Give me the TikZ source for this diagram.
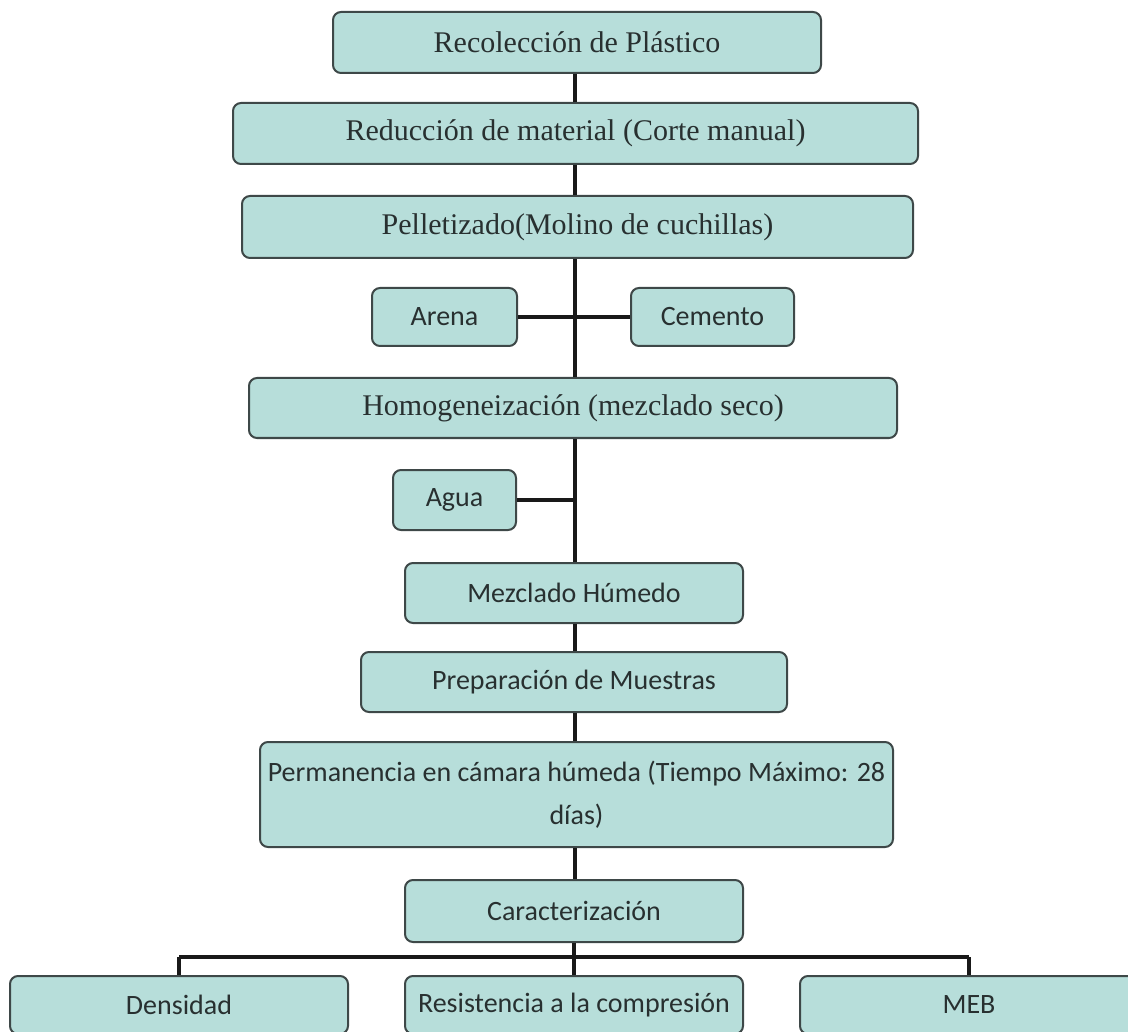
\documentclass[tikz,border=0pt]{standalone}
\usepackage{fontspec}
\setmainfont{Liberation Serif}
\newfontfamily\carl{Carlito}
\definecolor{boxfill}{RGB}{183,222,218}
\definecolor{boxline}{RGB}{62,72,72}
\definecolor{txt}{RGB}{40,48,48}
\begin{document}
\begin{tikzpicture}[x=1pt,y=-1pt,
  box/.style={draw=boxline, line width=2pt, fill=boxfill, rounded corners=8pt,
    inner sep=0pt, text=txt, anchor=center},
  serifbox/.style={box, font=\fontsize{30}{34}\selectfont},
  sansbox/.style={box, font=\carl\fontsize{28}{43}\selectfont},
  link/.style={line width=4pt, draw=black!90}]
\useasboundingbox (0,0) rectangle (1128,1032);
\clip (0,0) rectangle (1128,1032);
\fill[white] (0,0) rectangle (1128,1032);

\node[serifbox, minimum width=488pt, minimum height=61pt] (rec) at (577,42.5) {Recolección de Plástico};
\node[serifbox, minimum width=685pt, minimum height=61pt] (red) at (575.5,133.5) {Reducción de material (Corte manual)};
\node[serifbox, minimum width=671pt, minimum height=62pt] (pel) at (577.5,227) {Pelletizado(Molino de cuchillas)};
\node[sansbox, minimum width=145pt, minimum height=58pt] (arena) at (444.5,317) {Arena};
\node[sansbox, minimum width=163pt, minimum height=58pt] (cem) at (712.5,317) {Cemento};
\node[serifbox, minimum width=648pt, minimum height=60pt] (hom) at (573,408) {Homogeneización (mezclado seco)};
\node[sansbox, minimum width=123pt, minimum height=60pt] (agua) at (454.5,500) {Agua};
\node[sansbox, minimum width=338pt, minimum height=60pt] (mez) at (574,593) {Mezclado Húmedo};
\node[sansbox, minimum width=426pt, minimum height=60pt] (prep) at (574,682) {Preparación de Muestras};
\node[sansbox, minimum width=633pt, minimum height=105pt, align=center] (perm) at (576.5,794.5) {Permanencia en cámara húmeda (Tiempo Máximo: 28\\días)};
\node[sansbox, minimum width=338pt, minimum height=62pt] (car) at (574,911) {Caracterización};
\node[sansbox, minimum width=338pt, minimum height=58pt, yshift=-4pt] (den) at (179,1001) {Densidad};
\node[sansbox, minimum width=338pt, minimum height=58pt, yshift=-4pt] (res) at (574,1001) {Resistencia a la compresión};
\node[sansbox, minimum width=338pt, minimum height=58pt, yshift=-4pt] (meb) at (969,1001) {MEB};

\coordinate (tx) at (575,0);
\coordinate (bus) at (0,957);

\draw[link] (rec.south -| tx) -- (red.north -| tx);
\draw[link] (red.south -| tx) -- (pel.north -| tx);
\draw[link] (pel.south -| tx) -- (hom.north -| tx);
\draw[link] (arena.east) -- (cem.west);
\draw[link] (hom.south -| tx) -- (mez.north -| tx);
\draw[link] (agua.east) -- (agua.east -| tx);
\draw[link] (mez.south -| tx) -- (prep.north -| tx);
\draw[link] (prep.south -| tx) -- (perm.north -| tx);
\draw[link] (perm.south -| tx) -- (car.north -| tx);
\draw[link] (car.south) -- (car.south |- bus);
\draw[link] (bus -| den.north) -- (bus -| meb.north);
\draw[link] (bus -| den.north) -- (den.north);
\draw[link] (bus -| res.north) -- (res.north);
\draw[link] (bus -| meb.north) -- (meb.north);
\end{tikzpicture}
\end{document}
